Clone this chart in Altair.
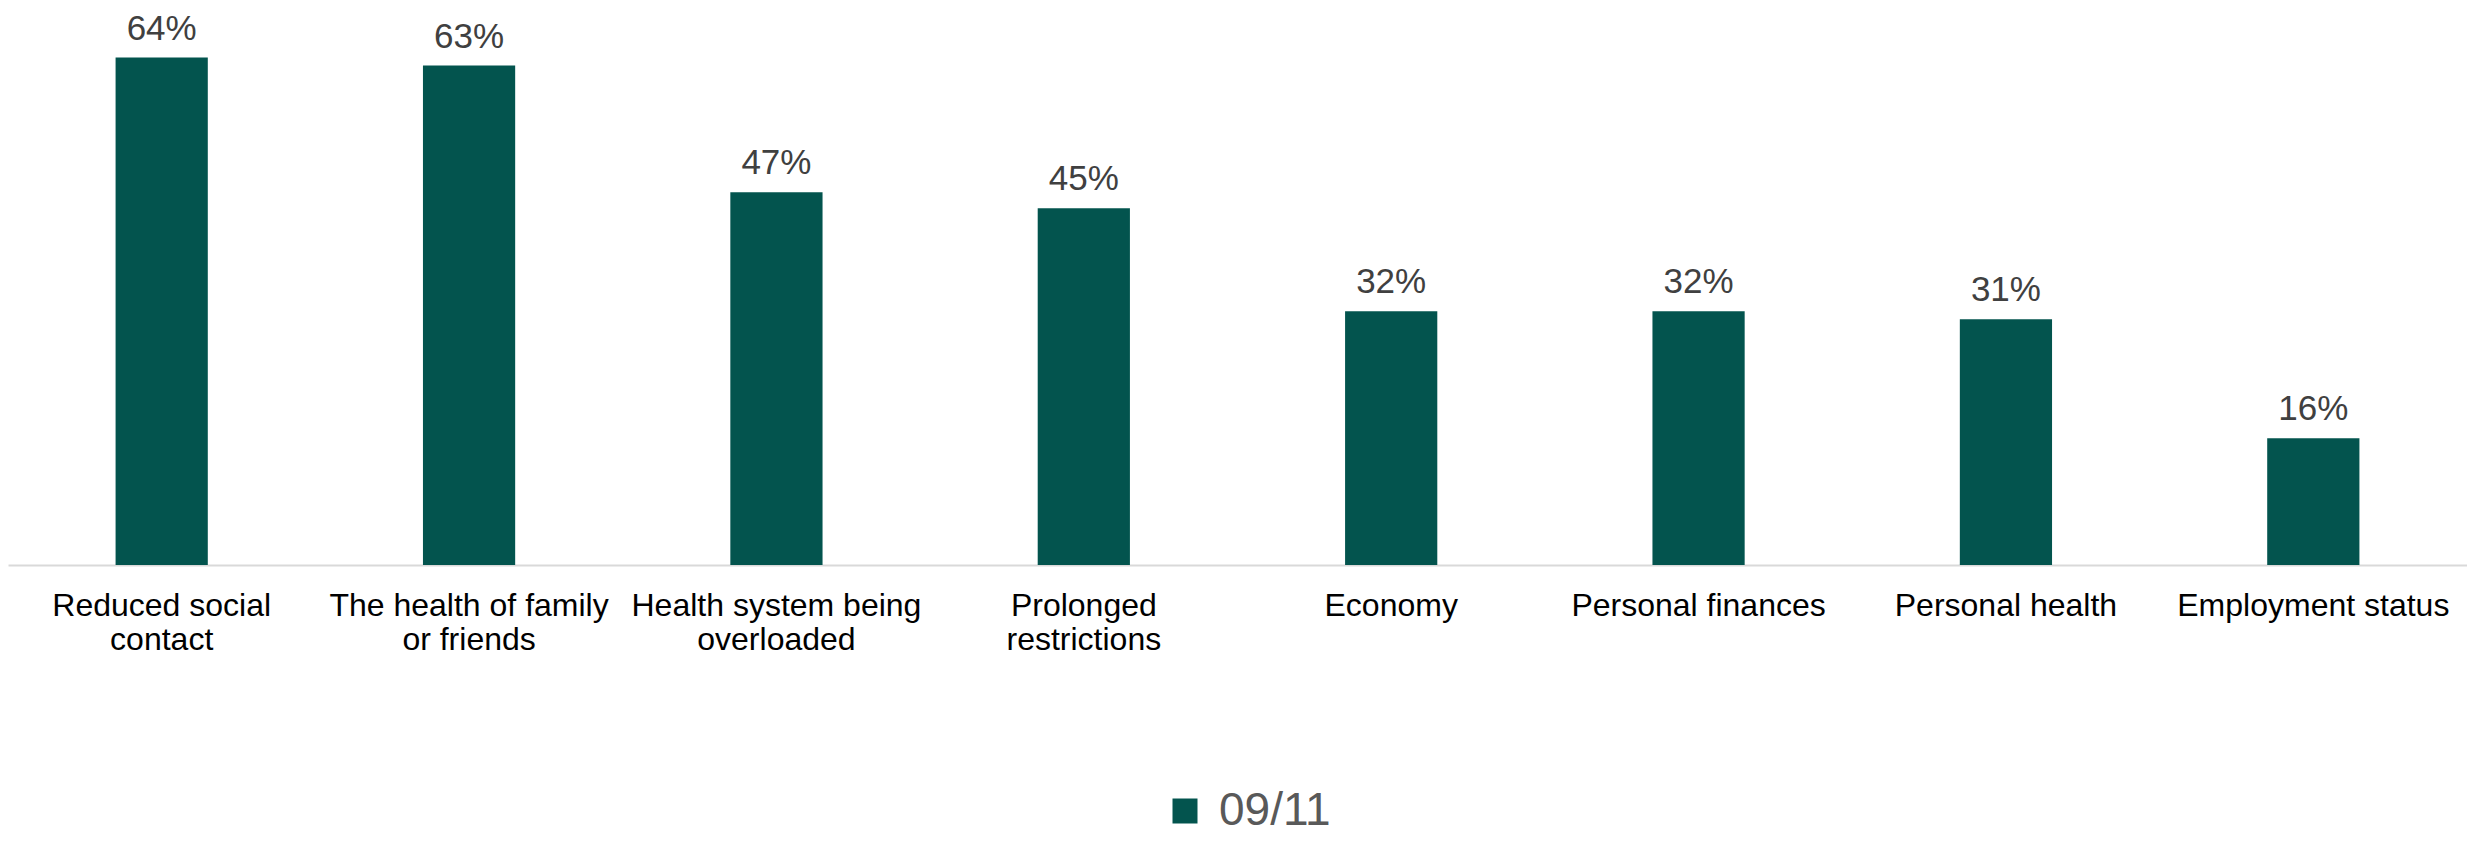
import altair as alt
import pandas as pd

categories = [
    "Reduced social contact",
    "The health of family or friends",
    "Health system being overloaded",
    "Prolonged restrictions",
    "Economy",
    "Personal finances",
    "Personal health",
    "Employment status",
]
label_lines = [
    ["Reduced social", "contact"],
    ["The health of family", "or friends"],
    ["Health system being", "overloaded"],
    ["Prolonged", "restrictions"],
    ["Economy"],
    ["Personal finances"],
    ["Personal health"],
    ["Employment status"],
]
values = [0.64, 0.63, 0.47, 0.45, 0.32, 0.32, 0.31, 0.16]
series_name = "09/11"

df = pd.DataFrame({"category": categories, "value": values, "series": series_name})

# build multi-line label expression
expr = "datum.label"
for cat, lines in reversed(list(zip(categories, label_lines))):
    arr = "[" + ",".join("'" + l + "'" for l in lines) + "]"
    expr = f"datum.label == '{cat}' ? {arr} : ({expr})"

FONT = "Liberation Sans"
BAR = "#03544E"

base = alt.Chart(df).encode(
    x=alt.X(
        "category:N",
        sort=categories,
        title=None,
        scale=alt.Scale(paddingInner=0.7, paddingOuter=0.35),
        axis=alt.Axis(
            labelExpr=expr,
            labelAngle=0,
            labelFontSize=32,
            labelFont=FONT,
            labelColor="#000000",
            labelLimit=0,
            labelLineHeight=34,
            labelPadding=25,
            ticks=False,
            domainColor="#D9D9D9",
            domainWidth=2,
            grid=False,
        ),
    ),
    y=alt.Y(
        "value:Q",
        title=None,
        scale=alt.Scale(domain=[0, 0.7], nice=False),
        axis=None,
    ),
)

bars = base.mark_bar(color=BAR).encode(
    color=alt.Color(
        "series:N",
        scale=alt.Scale(domain=[series_name], range=[BAR]),
        legend=alt.Legend(
            title=None,
            orient="none",
            legendX=1154,
            legendY=778,
            symbolType="square",
            symbolSize=625,
            symbolStrokeWidth=0,
            labelFontSize=46,
            labelFont=FONT,
            labelColor="#595959",
            labelOffset=11,
        ),
    )
)

text = base.mark_text(
    baseline="alphabetic",
    dy=-18,
    fontSize=35,
    font=FONT,
    color="#404040",
).encode(text=alt.Text("value:Q", format=".0%"))

chart = (
    alt.layer(bars, text)
    .properties(
        width=2459,
        height=555,
        autosize=alt.AutoSizeParams(type="none"),
        padding={"left": 0, "top": 2, "right": 0, "bottom": 274},
        background="white",
    )
    .configure_view(strokeWidth=0, stroke=None)
)

chart.save("out.html", embed_options={"renderer": "svg", "actions": False})
